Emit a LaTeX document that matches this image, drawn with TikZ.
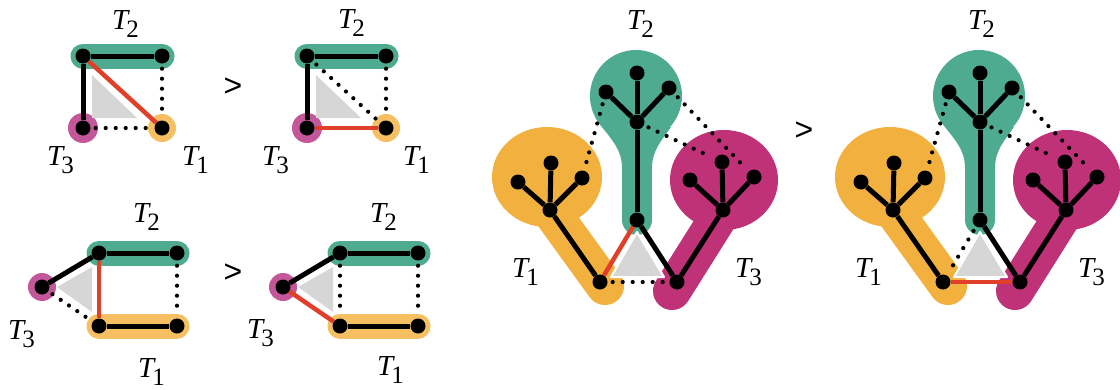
\documentclass[tikz,border=0pt]{standalone}
\usepackage{fontspec}
\setmainfont{Liberation Serif}
\newfontfamily\relfont{Liberation Sans}

\definecolor{tgreen}{HTML}{4EAB8F}
\definecolor{torange}{HTML}{F2B03F}
\definecolor{tmagenta}{HTML}{C03277}
\definecolor{lorange}{HTML}{F6C062}
\definecolor{lmagenta}{HTML}{C4579A}
\definecolor{redge}{HTML}{E0402A}
\definecolor{tgray}{HTML}{D6D6D6}

\pgfdeclarelayer{blobs}
\pgfdeclarelayer{links}
\pgfsetlayers{blobs,links,main}

% tree label T_i
\newcommand\Tl[1]{{\fontsize{29}{29}\selectfont\itshape T}\kern-2pt\raisebox{-8pt}{\fontsize{25}{25}\selectfont #1}}

\tikzset{
  dot/.style={circle, fill=black, inner sep=0pt, minimum size=15pt},
  blackedge/.style={line width=5pt, black},
  rededge/.style={line width=4.5pt, redge},
  dotedge/.style={line width=4.2pt, line cap=round, dash pattern=on 0pt off 10pt,
                  shorten <=5pt, shorten >=5pt},
  pill/.style={line width=25pt, line cap=round},
  tri/.style={fill=tgray},
  bigtri/.style={fill=tgray, draw=white, line width=2pt, line join=round},
  lbl/.style={anchor=base west, inner sep=0pt},
  gt/.style={inner sep=0pt, font=\relfont\fontsize{32}{32}\selectfont},
}

% three trees of the large panels, names prefixed by #1
\newcommand\treeset[1]{%
  \node[dot] (#1-2r) at (637,220) {};
  \node[dot] (#1-2c) at (637,122) {};
  \node[dot] (#1-2t) at (637,73) {};
  \node[dot] (#1-2l) at (606,92) {};
  \node[dot] (#1-2x) at (669,88) {};
  \node[dot] (#1-1r) at (600,282) {};
  \node[dot] (#1-1c) at (550,210) {};
  \node[dot] (#1-1l) at (518,182) {};
  \node[dot] (#1-1t) at (551,163) {};
  \node[dot] (#1-1x) at (582,178) {};
  \node[dot] (#1-3r) at (677,282) {};
  \node[dot] (#1-3c) at (723,210) {};
  \node[dot] (#1-3l) at (690,180) {};
  \node[dot] (#1-3t) at (722,162) {};
  \node[dot] (#1-3x) at (754,177) {};
  \begin{pgfonlayer}{blobs}
    \fill[tgreen] (636,96) circle[radius=46pt];
    \fill[tgreen] (602,127) .. controls (612,140) and (622,150) .. (622,168)
      -- (652,168) .. controls (652,150) and (662,140) .. (671,127) -- cycle;
    \draw[tgreen, line width=30pt, line cap=round] (637,120) -- (#1-2r.center);
    \fill[torange] (547,177) ellipse[x radius=55pt, y radius=50pt];
    \draw[torange, line width=38pt, line cap=round] (#1-1c.center) -- (605,286);
    \fill[tmagenta] (724,180) ellipse[x radius=54pt, y radius=50pt];
    \draw[tmagenta, line width=38pt, line cap=round] (#1-3c.center) -- (672,291);
    \filldraw[bigtri] (637,232) -- (611,277) -- (664,277) -- cycle;
  \end{pgfonlayer}
  \begin{pgfonlayer}{links}
    \draw[blackedge] (#1-2c) -- (#1-2r);
    \draw[blackedge] (#1-2c) -- (#1-2t);
    \draw[blackedge] (#1-2c) -- (#1-2l);
    \draw[blackedge] (#1-2c) -- (#1-2x);
    \draw[blackedge] (#1-1c) -- (#1-1r);
    \draw[blackedge] (#1-1c) -- (#1-1t);
    \draw[blackedge] (#1-1c) -- (#1-1l);
    \draw[blackedge] (#1-1c) -- (#1-1x);
    \draw[blackedge] (#1-3c) -- (#1-3r);
    \draw[blackedge] (#1-3c) -- (#1-3t);
    \draw[blackedge] (#1-3c) -- (#1-3l);
    \draw[blackedge] (#1-3c) -- (#1-3x);
    \draw[dotedge] (#1-2l) -- (#1-1x);
    \draw[dotedge] (#1-2x) -- (#1-3x);
    \draw[dotedge] (#1-2c) -- (#1-3t);
  \end{pgfonlayer}
}

% square of three trees, top row
\newcommand\squareset[1]{%
  \node[dot] (#1a) at (83,56) {};
  \node[dot] (#1b) at (162,56) {};
  \node[dot] (#1c) at (83,128) {};
  \node[dot] (#1d) at (162,128) {};
  \begin{pgfonlayer}{blobs}
    \draw[pill, tgreen] (#1a.center) -- (#1b.center);
    \fill[lmagenta] (#1c) circle[radius=15pt];
    \fill[lorange] (#1d) circle[radius=14pt];
    \fill[tri] (92,75) -- (92,118) -- (137,118) -- cycle;
  \end{pgfonlayer}
  \begin{pgfonlayer}{links}
    \draw[blackedge] (#1a) -- (#1b);
    \draw[blackedge] (#1a) -- (#1c);
    \draw[dotedge] (#1b) -- (#1d);
  \end{pgfonlayer}
}

% two paths and a single vertex, bottom row
\newcommand\ladderset[1]{%
  \node[dot] (#1e) at (42,287) {};
  \node[dot] (#1a) at (99,253) {};
  \node[dot] (#1b) at (177,253) {};
  \node[dot] (#1c) at (99,326) {};
  \node[dot] (#1d) at (177,326) {};
  \begin{pgfonlayer}{blobs}
    \draw[pill, tgreen] (#1a.center) -- (#1b.center);
    \draw[pill, lorange] (#1c.center) -- (#1d.center);
    \fill[lmagenta] (#1e) circle[radius=14pt];
    \fill[tri] (57,287) -- (92,267) -- (92,312) -- cycle;
  \end{pgfonlayer}
  \begin{pgfonlayer}{links}
    \draw[blackedge] (#1e) -- (#1a);
    \draw[blackedge] (#1a) -- (#1b);
    \draw[blackedge] (#1c) -- (#1d);
    \draw[dotedge] (#1b) -- (#1d);
  \end{pgfonlayer}
}

\begin{document}
\begin{tikzpicture}[x=1pt, y=-1pt]
  \useasboundingbox (0,0) rectangle (1120,389);

  % top-left pair
  \squareset{p1}
  \begin{pgfonlayer}{links}
    \draw[rededge] (p1a) -- (p1d);
    \draw[dotedge] (p1c) -- (p1d);
  \end{pgfonlayer}
  \begin{scope}[xshift=224pt]
    \squareset{p2}
    \begin{pgfonlayer}{links}
      \draw[rededge] (p2c) -- (p2d);
      \draw[dotedge] (p2a) -- (p2d);
    \end{pgfonlayer}
  \end{scope}
  \node[lbl] (p1l2) at (112,29) {\Tl{2}};
  \node[lbl] (p1l3) at (47,165) {\Tl{3}};
  \node[lbl] (p1l1) at (182,165) {\Tl{1}};
  \node[lbl] (p2l2) at (338,28) {\Tl{2}};
  \node[lbl] (p2l3) at (262,165) {\Tl{3}};
  \node[lbl] (p2l1) at (403,165) {\Tl{1}};
  \node[gt] (gt1) at (233,87) {>};

  % bottom-left pair
  \ladderset{p3}
  \begin{pgfonlayer}{links}
    \draw[rededge] (p3a) -- (p3c);
    \draw[dotedge] (p3e) -- (p3c);
  \end{pgfonlayer}
  \begin{scope}[xshift=241pt]
    \ladderset{p4}
    \begin{pgfonlayer}{links}
      \draw[rededge] (p4e) -- (p4c);
      \draw[dotedge] (p4a) -- (p4c);
    \end{pgfonlayer}
  \end{scope}
  \node[lbl] (p3l2) at (133,222) {\Tl{2}};
  \node[lbl] (p3l3) at (8,339) {\Tl{3}};
  \node[lbl] (p3l1) at (138,377) {\Tl{1}};
  \node[lbl] (p4l2) at (370,222) {\Tl{2}};
  \node[lbl] (p4l3) at (247,338) {\Tl{3}};
  \node[lbl] (p4l1) at (377,375) {\Tl{1}};
  \node[gt] (gt2) at (233,273) {>};

  % right pair of trees
  \treeset{p5}
  \begin{pgfonlayer}{links}
    \draw[blackedge] (p5-2r) -- (p5-3r);
    \draw[rededge] (p5-2r) -- (p5-1r);
    \draw[dotedge] (p5-1r) -- (p5-3r);
  \end{pgfonlayer}
  \begin{scope}[xshift=343pt]
    \treeset{p6}
    \begin{pgfonlayer}{links}
      \draw[blackedge] (p6-2r) -- (p6-3r);
      \draw[rededge] (p6-1r) -- (p6-3r);
      \draw[dotedge] (p6-2r) -- (p6-1r);
    \end{pgfonlayer}
  \end{scope}
  \node[lbl] (p5l2) at (627,29) {\Tl{2}};
  \node[lbl] (p5l1) at (512,277) {\Tl{1}};
  \node[lbl] (p5l3) at (735,277) {\Tl{3}};
  \node[lbl] (p6l2) at (968,29) {\Tl{2}};
  \node[lbl] (p6l1) at (855,277) {\Tl{1}};
  \node[lbl] (p6l3) at (1078,277) {\Tl{3}};
  \node[gt] (gt3) at (804,131) {>};
\end{tikzpicture}
\end{document}
